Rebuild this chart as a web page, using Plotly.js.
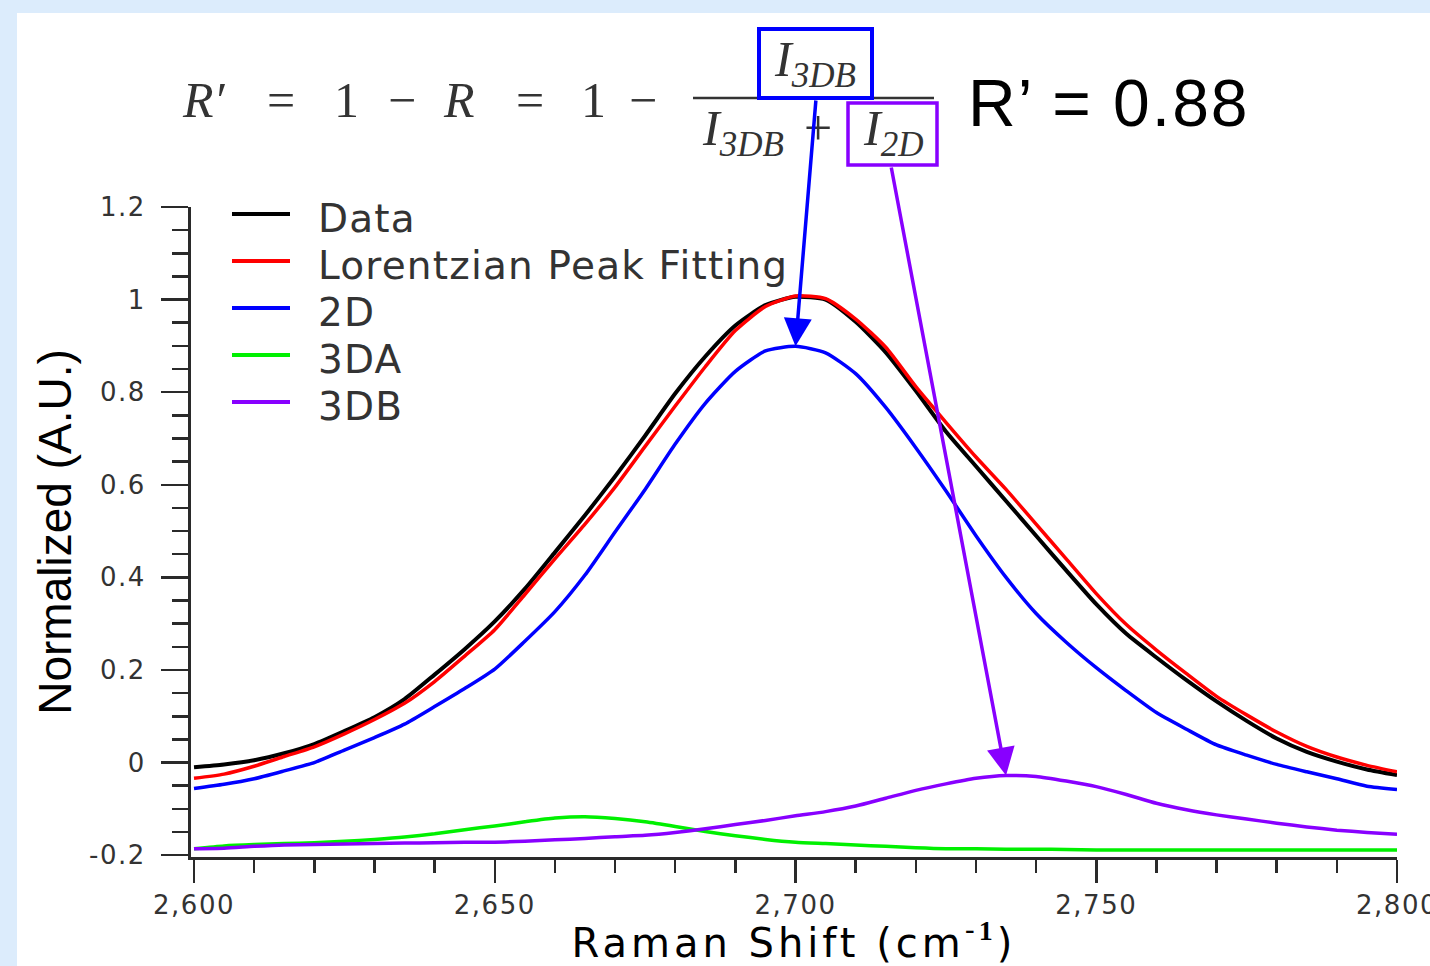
<!DOCTYPE html>
<html><head><meta charset="utf-8">
<script src="https://cdn.plot.ly/plotly-3.0.1.min.js"></script>
<style>
html,body{margin:0;padding:0;background:#dcecfc;width:1430px;height:966px;overflow:hidden;}
#chart{position:absolute;left:17px;top:13px;width:1413px;height:953px;background:#fff;}
</style></head><body><div id="chart"></div>
<script>
// ---- data ----
const ramanShift = [2600,2605,2610,2615,2620,2625,2630,2635,2640,2645,2650,2655,2660,2665,2670,2675,2680,2685,2690,2695,2700,2705,2710,2715,2720,2725,2730,2735,2740,2745,2750,2755,2760,2765,2770,2775,2780,2785,2790,2795,2800];
const dataY = [-0.010,-0.004,0.005,0.020,0.040,0.068,0.098,0.137,0.190,0.245,0.305,0.375,0.454,0.534,0.618,0.706,0.797,0.877,0.944,0.988,1.006,1.000,0.952,0.886,0.803,0.715,0.640,0.565,0.490,0.415,0.342,0.278,0.227,0.178,0.132,0.090,0.052,0.023,0.002,-0.015,-0.027];
const lorentzY = [-0.034,-0.025,-0.008,0.013,0.034,0.062,0.093,0.128,0.175,0.230,0.287,0.363,0.440,0.515,0.595,0.683,0.770,0.855,0.933,0.985,1.008,1.002,0.958,0.897,0.812,0.735,0.660,0.590,0.515,0.440,0.365,0.298,0.243,0.192,0.143,0.103,0.066,0.035,0.012,-0.006,-0.020];
const peak2DY = [-0.056,-0.047,-0.035,-0.018,0.000,0.027,0.054,0.083,0.121,0.160,0.202,0.262,0.326,0.405,0.498,0.590,0.688,0.776,0.845,0.889,0.899,0.885,0.840,0.767,0.680,0.587,0.490,0.400,0.322,0.260,0.205,0.155,0.108,0.072,0.038,0.016,-0.004,-0.020,-0.035,-0.051,-0.058];
const peak3DAY = [-0.186,-0.180,-0.177,-0.175,-0.173,-0.170,-0.166,-0.161,-0.154,-0.145,-0.137,-0.128,-0.120,-0.117,-0.121,-0.128,-0.138,-0.149,-0.158,-0.166,-0.172,-0.175,-0.178,-0.181,-0.184,-0.186,-0.186,-0.187,-0.187,-0.188,-0.189,-0.189,-0.189,-0.189,-0.189,-0.189,-0.189,-0.189,-0.189,-0.189,-0.189];
const peak3DBY = [-0.186,-0.185,-0.181,-0.178,-0.177,-0.176,-0.175,-0.174,-0.173,-0.172,-0.172,-0.170,-0.167,-0.164,-0.160,-0.157,-0.151,-0.143,-0.134,-0.125,-0.115,-0.106,-0.094,-0.077,-0.060,-0.046,-0.034,-0.028,-0.030,-0.040,-0.052,-0.069,-0.088,-0.102,-0.113,-0.122,-0.131,-0.139,-0.146,-0.151,-0.155];

const seriesNames = ["Data","Lorentzian Peak Fitting","2D","3DA","3DB"];
const seriesColors = ["#000000","#ff0000","#0000ff","#00f000","#8800ff"];
const seriesValues = [dataY, lorentzY, peak2DY, peak3DAY, peak3DBY];

const xTickVals = [2600,2650,2700,2750,2800];
const xTickText = ["2,600","2,650","2,700","2,750","2,800"];
const yTickVals = [-0.2,0,0.2,0.4,0.6,0.8,1,1.2];
const yTickText = ["-0.2","0","0.2","0.4","0.6","0.8","1","1.2"];

// ---- layout helpers (page pixel -> paper) ----
const PL=191, PR=1397, PT=207, PB=857;
const X0=2599.5, X1=2800, Y0=-0.204, Y1=1.2;
const px = p => (p-PL)/(PR-PL);
const py = p => (PB-p)/(PB-PT);
const pageToX = p => X0 + (p-PL)/(PR-PL)*(X1-X0);
const pageToY = p => Y0 + (PB-p)/(PB-PT)*(Y1-Y0);
const wide = (s, ls) => '<span style="letter-spacing:' + ls + 'px">' + s + '</span>';

const traces = seriesNames.map((n,i)=>({
  type:'scatter', mode:'lines', name:n, x:ramanShift, y:seriesValues[i],
  line:{color:seriesColors[i], width: i===0?4:3.5, shape:'spline', smoothing:0.6},
  showlegend:false, hoverinfo:'x+y+name'
}));

const shapes = [];
const annotations = [];

// manual legend
const legY = [214,261,308,355,402];
seriesNames.forEach((n,i)=>{
  shapes.push({type:'line', xref:'paper', yref:'paper', x0:px(232), x1:px(290), y0:py(legY[i]), y1:py(legY[i]),
    line:{color:seriesColors[i], width:4}});
  annotations.push({xref:'paper', yref:'paper', x:px(316), y:py(legY[i]+4), xanchor:'left', yanchor:'middle',
    text:wide(n,1.2), showarrow:false, font:{family:'DejaVu Sans', size:39, color:'#333'}});
});

// equation
const eqFont = {family:'Liberation Serif', size:50, color:'#333'};
const eqTokens = [["<i>R′</i>",204],["=",281],["1",346],["−",402],["<i>R</i>",459],["=",530],["1",593],["−",643]];
eqTokens.forEach(t=>annotations.push({xref:'paper', yref:'paper', x:px(t[1]), y:py(100), xanchor:'center', yanchor:'middle',
  text:t[0], showarrow:false, font:eqFont}));
annotations.push({xref:'paper', yref:'paper', x:px(815), y:py(63), xanchor:'center', yanchor:'middle',
  text:"<i>I</i><sub><i>3DB</i></sub>", showarrow:false, font:eqFont});
annotations.push({xref:'paper', yref:'paper', x:px(743), y:py(132), xanchor:'center', yanchor:'middle',
  text:"<i>I</i><sub><i>3DB</i></sub>", showarrow:false, font:eqFont});
annotations.push({xref:'paper', yref:'paper', x:px(818), y:py(128), xanchor:'center', yanchor:'middle',
  text:"+", showarrow:false, font:eqFont});
annotations.push({xref:'paper', yref:'paper', x:px(893), y:py(132), xanchor:'center', yanchor:'middle',
  text:"<i>I</i><sub><i>2D</i></sub>", showarrow:false, font:eqFont});
annotations.push({xref:'paper', yref:'paper', x:px(1109), y:py(103), xanchor:'center', yanchor:'middle',
  text:wide("R’ = 0.88",2), showarrow:false, font:{family:'Liberation Sans', size:66, color:'#000'}});

// fraction bar and boxes
shapes.push({type:'line', xref:'paper', yref:'paper', x0:px(693), x1:px(934), y0:py(98), y1:py(98), line:{color:'#333', width:2.5}});
shapes.push({type:'rect', xref:'paper', yref:'paper', x0:px(759), x1:px(872), y0:py(98), y1:py(29), line:{color:'#0000ff', width:4}});
shapes.push({type:'rect', xref:'paper', yref:'paper', x0:px(848), x1:px(937), y0:py(165), y1:py(103), line:{color:'#8800ff', width:3.5}});

// arrows pointing to peak maxima
function peakOf(arr){ let k=0; arr.forEach((v,i)=>{ if(v>arr[k]) k=i; }); return [ramanShift[k], arr[k]]; }
const p2D = peakOf(peak2DY), p3DB = peakOf(peak3DBY);
annotations.push({xref:'x', yref:'y', x:p2D[0], y:p2D[1], axref:'x', ayref:'y', ax:pageToX(816), ay:pageToY(99),
  text:'', showarrow:true, arrowhead:2, arrowsize:1.6, arrowwidth:3.5, arrowcolor:'#0000ff', standoff:0});
annotations.push({xref:'x', yref:'y', x:p3DB[0], y:p3DB[1], axref:'x', ayref:'y', ax:pageToX(891), ay:pageToY(166),
  text:'', showarrow:true, arrowhead:2, arrowsize:1.6, arrowwidth:3.5, arrowcolor:'#8800ff', standoff:0});

const axColor = '#2a2a2a';
const layout = {
  width:1413, height:953,
  margin:{l:PL-17, r:1430-PR, t:PT-13, b:966-PB},
  paper_bgcolor:'#ffffff', plot_bgcolor:'#ffffff',
  showlegend:false,
  xaxis:{
    range:[X0,X1], showgrid:false, zeroline:false, showline:true, linecolor:axColor, linewidth:3,
    ticks:'outside', ticklen:23, tickwidth:2.5, tickcolor:axColor,
    tickmode:'array', tickvals:xTickVals, ticktext:xTickText.map(t=>wide(t,1.5)), ticklabelstandoff:0,
    ticklabeloverflow:'allow',
    tickfont:{family:'DejaVu Sans', size:26, color:'#333'},
    minor:{tickmode:'linear', tick0:2600, dtick:10, ticks:'outside', ticklen:13, tickwidth:2.5, tickcolor:axColor, showgrid:false},
    title:{text:wide('Raman Shift (cm<sup>-<span style="font-family:Liberation Serif;font-weight:bold">1</span></sup>)',4),
      font:{family:'DejaVu Sans', size:40, color:'#000'}, standoff:2}
  },
  yaxis:{
    range:[Y0,Y1], showgrid:false, zeroline:false, showline:true, linecolor:axColor, linewidth:3,
    ticks:'outside', ticklen:27, tickwidth:2.5, tickcolor:axColor,
    tickmode:'array', tickvals:yTickVals, ticktext:yTickText.map(t=>wide(t,1.5)), ticklabelstandoff:10,
    tickfont:{family:'DejaVu Sans', size:26, color:'#333'},
    minor:{tickmode:'linear', tick0:0, dtick:0.05, ticks:'outside', ticklen:16, tickwidth:2.5, tickcolor:axColor, showgrid:false},
    title:{text:'Normalized (A.U.)', font:{family:'Liberation Sans', size:46, color:'#000'}, standoff:3}
  },
  shapes:shapes, annotations:annotations
};
Plotly.newPlot('chart', traces, layout, {displayModeBar:false, staticPlot:true});
</script></body></html>
